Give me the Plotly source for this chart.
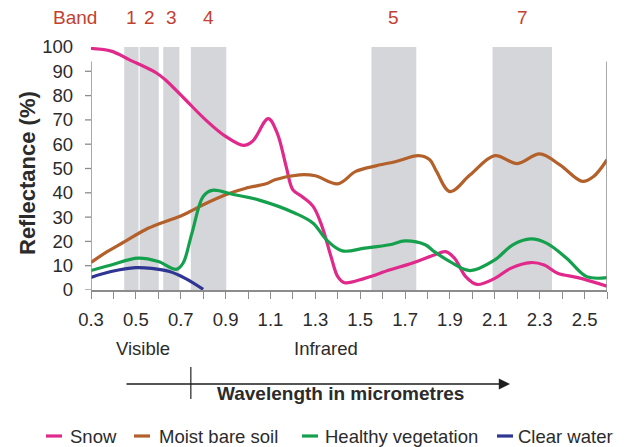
import plotly.graph_objects as go

# Spectral reflectance curves (wavelength in micrometres, reflectance in %)
SNOW_X = [0.30, 0.39, 0.47, 0.59, 0.63, 0.72, 0.81, 0.90, 0.98, 1.02, 1.09, 1.13, 1.17,
          1.20, 1.24, 1.29, 1.33, 1.37, 1.40, 1.43, 1.52, 1.63, 1.73, 1.83, 1.88, 1.92,
          1.97, 2.02, 2.10, 2.17, 2.26, 2.32, 2.38, 2.47, 2.60]
SNOW_Y = [99.4, 98.3, 94.8, 89.4, 86.6, 78.4, 70.1, 63.2, 59.5, 61.2, 70.5, 64.6, 50.8,
          41.2, 38.5, 34.4, 26.1, 13.7, 5.5, 3.0, 4.8, 8.2, 11.0, 14.4, 15.8, 13.1,
          5.5, 2.3, 4.8, 8.9, 11.3, 10.3, 6.9, 5.1, 1.6]

SOIL_X = [0.30, 0.36, 0.45, 0.54, 0.62, 0.71, 0.80, 0.90, 0.99, 1.08, 1.12, 1.23, 1.30,
          1.40, 1.48, 1.57, 1.66, 1.76, 1.81, 1.84, 1.90, 1.99, 2.10, 2.20, 2.30, 2.39,
          2.49, 2.54, 2.60]
SOIL_Y = [11.3, 15.1, 19.9, 24.7, 27.8, 30.9, 35.1, 39.2, 41.9, 43.7, 45.4, 47.4, 47.0,
          43.7, 48.8, 51.1, 52.9, 55.3, 53.6, 48.8, 40.5, 47.4, 55.3, 52.0, 56.0, 51.5,
          44.7, 46.7, 53.6]

VEG_X = [0.30, 0.39, 0.51, 0.60, 0.68, 0.71, 0.75, 0.80, 0.84, 0.94, 1.05, 1.21, 1.29,
         1.35, 1.42, 1.52, 1.63, 1.70, 1.79, 1.83, 1.90, 1.99, 2.10, 2.18, 2.26, 2.33,
         2.42, 2.51, 2.60]
VEG_Y = [8.0, 10.3, 13.1, 11.7, 8.5, 11.0, 23.4, 38.5, 41.0, 39.2, 37.0, 31.6, 27.5,
         20.6, 16.1, 17.2, 18.6, 20.2, 18.6, 15.8, 11.7, 8.0, 12.4, 18.6, 21.0, 19.3,
         13.1, 5.5, 5.1]

WATER_X = [0.30, 0.39, 0.50, 0.57, 0.65, 0.72, 0.80]
WATER_Y = [5.2, 7.6, 9.2, 8.9, 7.6, 4.8, 0.3]

SERIES_NAMES = ["Snow", "Moist bare soil", "Healthy vegetation", "Clear water"]
SERIES_COLORS = ["#e0298a", "#b3602a", "#14a04c", "#2e3592"]

# Landsat TM band windows
BAND_NAMES = ["1", "2", "3", "4", "5", "7"]
BAND_START = [0.448, 0.517, 0.622, 0.745, 1.55, 2.09]
BAND_END = [0.512, 0.602, 0.694, 0.903, 1.75, 2.355]

X_TICKS = [0.3, 0.5, 0.7, 0.9, 1.1, 1.3, 1.5, 1.7, 1.9, 2.1, 2.3, 2.5]
Y_TICKS = [0, 10, 20, 30, 40, 50, 60, 70, 80, 90, 100]
VIS_IR_BOUNDARY = 0.745

X_MIN, X_MAX = 0.3, 2.6
Y_MIN, Y_MAX = 0, 100
AXIS_TOP = 94

W, H = 627, 447
ML, MR, MT, MB = 91, 20, 47, 157
PW, PH = W - ML - MR, H - MT - MB

FONT = "Liberation Sans, Arial, Helvetica, sans-serif"
AXIS_GREY = "#8c8c8c"
TEXT = "#2b2b2b"
BAND_RED = "#c4402f"


def px_x(p):
    """Horizontal page pixel -> paper fraction."""
    return (p - ML) / PW


def px_y(p):
    """Vertical page pixel -> paper fraction."""
    return (H - MB - p) / PH


def label(x, y, text, size, color=TEXT, xanchor="center", xref="paper", **kw):
    return dict(xref=xref, yref="paper", x=x, y=y, text=text, showarrow=False,
                xanchor=xanchor, yanchor="middle",
                font=dict(family=FONT, size=size, color=color), **kw)


fig = go.Figure()

series = [(SNOW_X, SNOW_Y), (SOIL_X, SOIL_Y), (VEG_X, VEG_Y), (WATER_X, WATER_Y)]
for (xs, ys), name, color in zip(series, SERIES_NAMES, SERIES_COLORS):
    fig.add_trace(go.Scatter(
        x=xs, y=ys, name=name, mode="lines",
        line=dict(color=color, width=3.2, shape="spline", smoothing=1.0),
        cliponaxis=False, showlegend=False, hoverinfo="skip",
    ))

shapes = []
annotations = []

# grey band windows
for name, b0, b1 in zip(BAND_NAMES, BAND_START, BAND_END):
    shapes.append(dict(type="rect", xref="x", yref="y", x0=b0, x1=b1, y0=Y_MIN, y1=Y_MAX,
                       fillcolor="#d4d6d9", line=dict(width=0), layer="below"))
    annotations.append(label((b0 + b1) / 2, px_y(18), name, 19, BAND_RED, xref="x"))
annotations.append(label(px_x(74.5), px_y(18), "Band", 19, BAND_RED))

# left and right frame lines
for xv in (X_MIN, X_MAX):
    shapes.append(dict(type="line", xref="x", yref="y", x0=xv, x1=xv, y0=Y_MIN, y1=AXIS_TOP,
                       line=dict(color=AXIS_GREY, width=1.5)))
# y tick marks
for v in Y_TICKS:
    if v <= AXIS_TOP:
        shapes.append(dict(type="line", xref="paper", yref="y", x0=-6 / PW, x1=0, y0=v, y1=v,
                           line=dict(color=AXIS_GREY, width=1.3)))

# y-axis title
annotations.append(label(px_x(27), px_y(173), "<b>Reflectance (%)</b>", 22, textangle=-90))

# spectrum region labels
annotations.append(label(px_x(143), px_y(348), "Visible", 18.5))
annotations.append(label(px_x(326), px_y(348), "Infrared", 18.5))

# wavelength arrow
annotations.append(dict(xref="paper", yref="paper", x=px_x(510), y=px_y(384),
                        ax=-(510 - 125), ay=0, axref="pixel", ayref="pixel",
                        text="", showarrow=True, arrowhead=2, arrowsize=1.6,
                        arrowwidth=1.4, arrowcolor="#1e1e1e"))
shapes.append(dict(type="line", xref="x", yref="paper", x0=VIS_IR_BOUNDARY, x1=VIS_IR_BOUNDARY,
                   y0=px_y(367), y1=px_y(399), line=dict(color="#333333", width=1.3)))
annotations.append(label(px_x(340), px_y(393), "<b>Wavelength in micrometres</b>", 19))

# legend row
LEGEND_DASH_X = [46, 134, 302, 497]
LEGEND_TEXT_X = [68, 157, 323, 516]
LEGEND_Y = 436
for name, color, dx, tx in zip(SERIES_NAMES, SERIES_COLORS, LEGEND_DASH_X, LEGEND_TEXT_X):
    shapes.append(dict(type="line", xref="paper", yref="paper",
                       x0=px_x(dx), x1=px_x(dx + 16), y0=px_y(LEGEND_Y), y1=px_y(LEGEND_Y),
                       line=dict(color=color, width=3.2)))
    annotations.append(label(px_x(tx), px_y(LEGEND_Y), name, 18.5, xanchor="left"))

fig.update_layout(
    width=W, height=H,
    margin=dict(l=ML, r=MR, t=MT, b=MB, autoexpand=False),
    paper_bgcolor="white", plot_bgcolor="white",
    showlegend=False,
    shapes=shapes, annotations=annotations,
    xaxis=dict(
        range=[X_MIN, X_MAX], showgrid=False, zeroline=False,
        showline=True, linecolor=AXIS_GREY, linewidth=1.5,
        tickmode="array", tickvals=X_TICKS, ticktext=[f"{v:.1f}" for v in X_TICKS],
        ticks="outside", ticklen=7, tickwidth=1.3, tickcolor=AXIS_GREY,
        minor=dict(dtick=0.1, tick0=0.3, ticks="outside", ticklen=7, tickwidth=1.3,
                   tickcolor=AXIS_GREY, showgrid=False),
        ticklabelstandoff=5,
        tickfont=dict(family=FONT, size=18.5, color=TEXT),
    ),
    yaxis=dict(
        range=[Y_MIN, Y_MAX], showgrid=False, zeroline=False, showline=False,
        tickmode="array", tickvals=Y_TICKS, ticks="",
        ticklabelstandoff=17,
        tickfont=dict(family=FONT, size=18.5, color=TEXT),
    ),
)

fig.write_html("out.html")
